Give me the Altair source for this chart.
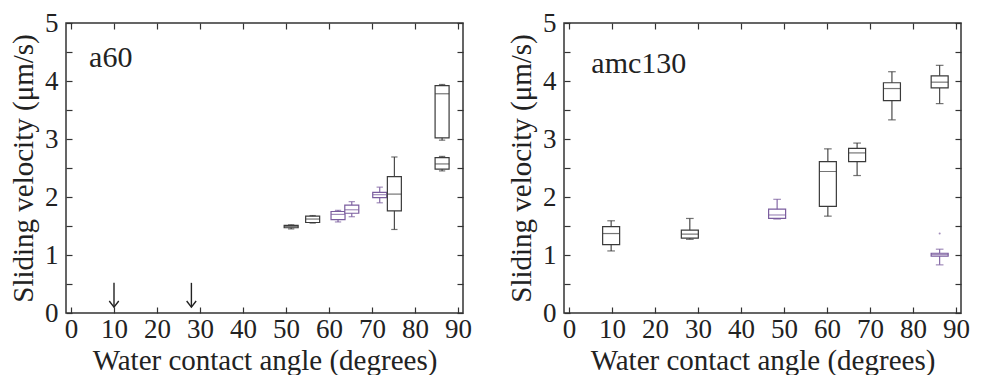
import altair as alt
import pandas as pd

# ---------------- data ----------------
# panel a60
a_angle = [51.2, 56.2, 62.1, 65.3, 71.8, 75.2, 86.3, 86.3]
a_lo    = [1.45, 1.55, 1.57, 1.66, 1.90, 1.44, 2.98, 2.45]
a_q1    = [1.47, 1.56, 1.61, 1.72, 1.99, 1.76, 3.02, 2.48]
a_med   = [1.49, 1.62, 1.70, 1.78, 2.04, 2.05, 3.78, 2.57]
a_q3    = [1.51, 1.67, 1.75, 1.86, 2.08, 2.35, 3.92, 2.68]
a_hi    = [1.52, 1.68, 1.77, 1.92, 2.17, 2.69, 3.94, 2.70]
a_grp   = ["g", "g", "p", "p", "p", "g", "g", "g"]

# panel amc130
b_angle = [9.8, 28.1, 48.4, 60.2, 67.0, 75.1, 86.2, 86.2]
b_lo    = [1.07, 1.27, 1.62, 1.67, 2.37, 3.33, 3.61, 0.83]
b_q1    = [1.18, 1.29, 1.63, 1.84, 2.61, 3.66, 3.88, 0.98]
b_med   = [1.37, 1.36, 1.69, 2.44, 2.76, 3.87, 3.98, 1.01]
b_q3    = [1.49, 1.43, 1.79, 2.61, 2.84, 3.97, 4.09, 1.03]
b_hi    = [1.59, 1.63, 1.96, 2.83, 2.93, 4.16, 4.27, 1.10]
b_grp   = ["g", "g", "p", "g", "g", "g", "g", "p"]
b_out_angle = [86.2]
b_out_val   = [1.37]

# arrows marking no sliding (a60)
arrow_angle = [10, 28]
arrow_top   = [0.52, 0.52]
arrow_tip   = [0.10, 0.10]

x_ticks = [0, 10, 20, 30, 40, 50, 60, 70, 80, 90]
y_ticks = [0, 0.5, 1, 1.5, 2, 2.5, 3, 3.5, 4, 4.5, 5]

FONT = "Liberation Serif"
INK = "#222222"
groups = ["g", "p"]
group_colors = ["#3a3a3a", "#7a5c9e"]

W, H = 397, 290

xscale = alt.Scale(domain=[0, 90], nice=False, zero=False)
yscale = alt.Scale(domain=[0, 5], nice=False, zero=False)
cscale = alt.Scale(domain=groups, range=group_colors)

ylab_expr = "datum.value % 1 === 0 ? format(datum.value, 'd') : ''"


def panel(angle, lo, q1, med, q3, hi, grp, label, label_x, label_y,
          box_w, out_a=None, out_v=None, arrows=None):
    df = pd.DataFrame({"angle": angle, "lo": lo, "q1": q1, "med": med,
                       "q3": q3, "hi": hi, "grp": grp})
    base = alt.Chart(df)

    whisk = base.mark_rule(strokeWidth=1.1).encode(
        x=alt.X("angle:Q", scale=xscale,
                axis=alt.Axis(values=x_ticks, title="Water contact angle (degrees)",
                              orient="bottom", domain=False,
                              tickSize={"expr": "-6"}, tickColor="#333", tickWidth=1.2,
                              labelPadding=9, labelFlush=False, labelOverlap=False,
                              labelFontSize=27, labelColor=INK,
                              titleFontSize=29, titleFontWeight="normal",
                              titleColor=INK, titlePadding=4, grid=False)),
        y=alt.Y("lo:Q", scale=yscale,
                axis=alt.Axis(values=y_ticks, title="Sliding velocity (μm/s)",
                              orient="left", domain=False, labelExpr=ylab_expr,
                              tickSize={"expr": "-6"}, tickColor="#333", tickWidth=1.2,
                              labelPadding=14, labelFlush=False, labelOverlap=False,
                              labelFontSize=27, labelColor=INK,
                              titleFontSize=29, titleFontWeight="normal",
                              titleColor=INK, titlePadding=6, grid=False)),
        y2="hi:Q",
        stroke=alt.Stroke("grp:N", scale=cscale, legend=None),
    )

    mirror = base.mark_rule(opacity=0).encode(
        x=alt.X("angle:Q", scale=xscale,
                axis=alt.Axis(values=x_ticks, title=None, orient="top", labels=False,
                              domain=False, tickSize={"expr": "-6"}, tickColor="#333",
                              tickWidth=1.2, grid=False)),
        y=alt.Y("lo:Q", scale=yscale,
                axis=alt.Axis(values=y_ticks, title=None, orient="right", labels=False,
                              domain=False, tickSize={"expr": "-6"}, tickColor="#333",
                              tickWidth=1.2, grid=False)),
    )

    box = base.mark_bar(size=box_w, fill="white", strokeWidth=1.2).encode(
        x=alt.X("angle:Q", scale=xscale, axis=None),
        y=alt.Y("q1:Q", scale=yscale, axis=None),
        y2="q3:Q",
        stroke=alt.Stroke("grp:N", scale=cscale, legend=None),
    )

    med_t = base.mark_tick(orient="horizontal", size=box_w, thickness=1.2).encode(
        x=alt.X("angle:Q", scale=xscale, axis=None),
        y=alt.Y("med:Q", scale=yscale, axis=None),
        color=alt.Color("grp:N", scale=cscale, legend=None),
    )
    cap_lo = base.mark_tick(orient="horizontal", size=box_w * 0.45, thickness=1.2).encode(
        x=alt.X("angle:Q", scale=xscale, axis=None),
        y=alt.Y("lo:Q", scale=yscale, axis=None),
        color=alt.Color("grp:N", scale=cscale, legend=None),
    )
    cap_hi = base.mark_tick(orient="horizontal", size=box_w * 0.45, thickness=1.2).encode(
        x=alt.X("angle:Q", scale=xscale, axis=None),
        y=alt.Y("hi:Q", scale=yscale, axis=None),
        color=alt.Color("grp:N", scale=cscale, legend=None),
    )

    lab = alt.Chart(pd.DataFrame({"x": [label_x], "y": [label_y], "t": [label]})).mark_text(
        align="left", baseline="middle", fontSize=30, color=INK
    ).encode(
        x=alt.X("x:Q", scale=xscale, axis=None),
        y=alt.Y("y:Q", scale=yscale, axis=None),
        text="t:N",
    )

    layers = [whisk, mirror, box, med_t, cap_lo, cap_hi, lab]

    if out_a is not None:
        odf = pd.DataFrame({"x": out_a, "y": out_v})
        layers.append(alt.Chart(odf).mark_point(shape="circle", size=4, filled=True,
                                                color=group_colors[1]).encode(
            x=alt.X("x:Q", scale=xscale, axis=None),
            y=alt.Y("y:Q", scale=yscale, axis=None)))

    if arrows is not None:
        adf = pd.DataFrame({"x": arrows[0], "top": arrows[1], "tip": arrows[2]})
        shaft = alt.Chart(adf).mark_rule(color=INK, strokeWidth=1.4).encode(
            x=alt.X("x:Q", scale=xscale, axis=None),
            y=alt.Y("top:Q", scale=yscale, axis=None),
            y2="tip:Q")
        head = alt.Chart(adf).mark_point(
            shape="M -1 -1.3 L 0 0 L 1 -1.3", filled=False, size=90,
            color=INK, strokeWidth=1.4, opacity=1).encode(
            x=alt.X("x:Q", scale=xscale, axis=None),
            y=alt.Y("tip:Q", scale=yscale, axis=None))
        layers += [shaft, head]

    return alt.layer(*layers).resolve_scale(
        x="shared", y="shared", stroke="shared", color="shared"
    ).resolve_axis(x="independent", y="independent").properties(width=W, height=H)


left = panel(a_angle, a_lo, a_q1, a_med, a_q3, a_hi, a_grp, "a60", 4.2, 4.4,
             box_w=14, arrows=(arrow_angle, arrow_top, arrow_tip))
right = panel(b_angle, b_lo, b_q1, b_med, b_q3, b_hi, b_grp, "amc130", 5.2, 4.3,
              box_w=17, out_a=b_out_angle, out_v=b_out_val)

chart = alt.hconcat(left, right, spacing=33).properties(
    padding={"left": 8, "top": 8, "right": 0, "bottom": 0}
).configure(background="white", font=FONT).configure_view(
    stroke="#333333", strokeWidth=1.5
).configure_axis(labelFont=FONT, titleFont=FONT).configure_text(font=FONT)

chart.save("out.html", embed_options={"renderer": "svg", "actions": False})
